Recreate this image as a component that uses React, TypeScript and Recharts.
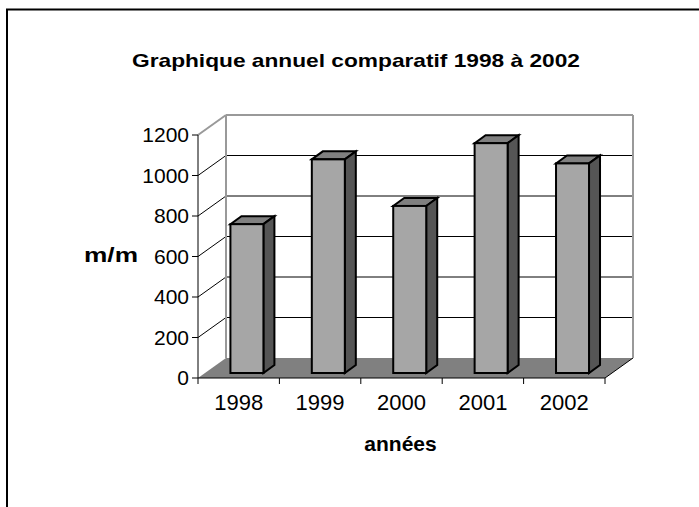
import React from 'react';
import { BarChart, Bar, XAxis, YAxis, CartesianGrid } from 'recharts';

const years = ['1998', '1999', '2000', '2001', '2002'];
const rainfall = [735, 1055, 825, 1135, 1035];
const yTicks = [0, 200, 400, 600, 800, 1000, 1200];

const data = years.map((year, i) => ({ year, value: rainfall[i] }));

// pseudo-3d depth of the walls and of the bars (pixels)
const DX = 28;
const DY = -20;
const BAR_DX = 8;
const BAR_DY = -5;
const SIDE_DX = 11;
const SIDE_DY = -8;

const FONT = '"Liberation Sans", Arial, sans-serif';

const PLOT = { left: 198, top: 135, width: 407, height: 243 };

// one horizontal grid line -> floor / back wall line / wall border
const wallLine = (props: any) => {
  const { x1, x2, y1, index } = props;
  const top = props.y ?? PLOT.top;
  const bottom = top + (props.height ?? PLOT.height);
  const key = `wall-${index}`;
  if (Math.abs(y1 - bottom) < 0.5) {
    return (
      <g key={key}>
        <polygon
          points={`${x1},${y1} ${x2},${y1} ${x2 + DX},${y1 + DY} ${x1 + DX},${y1 + DY}`}
          fill="#808080"
        />
        <line x1={x2} y1={y1} x2={x2 + DX} y2={y1 + DY} stroke="#000" strokeWidth={1} />
      </g>
    );
  }
  if (Math.abs(y1 - top) < 0.5) {
    return (
      <g key={key} stroke="#999" strokeWidth={2} fill="none">
        <line x1={x1} y1={y1} x2={x1 + DX} y2={y1 + DY} />
        <line x1={x1 + DX} y1={y1 + DY} x2={x2 + DX} y2={y1 + DY} />
        <line x1={x1 + DX} y1={y1 + DY} x2={x1 + DX} y2={bottom + DY} />
        <line x1={x2 + DX} y1={y1 + DY} x2={x2 + DX} y2={bottom + DY} />
      </g>
    );
  }
  return (
    <g key={key} stroke="#000" strokeWidth={1}>
      <line x1={x1} y1={y1} x2={x1 + DX} y2={y1 + DY} />
      <line x1={x1 + DX} y1={y1 + DY} x2={x2 + DX} y2={y1 + DY} />
    </g>
  );
};

const Bar3D = (props: any) => {
  const { x, y, width, height } = props;
  const fx = x + BAR_DX;
  const fy = y + BAR_DY;
  return (
    <g stroke="#000" strokeWidth={2} strokeLinejoin="miter">
      <polygon
        points={`${fx},${fy} ${fx + width},${fy} ${fx + width + SIDE_DX},${fy + SIDE_DY} ${fx + SIDE_DX},${fy + SIDE_DY}`}
        fill="#808080"
      />
      <polygon
        points={`${fx + width},${fy} ${fx + width + SIDE_DX},${fy + SIDE_DY} ${fx + width + SIDE_DX},${fy + height + SIDE_DY} ${fx + width},${fy + height}`}
        fill="#555555"
      />
      <rect x={fx} y={fy} width={width} height={height} fill="#a6a6a6" />
    </g>
  );
};

const YearTick = (props: any) => {
  const { x, y, payload, index } = props;
  const band = PLOT.width / years.length;
  const axisY = y - 16;
  return (
    <g>
      <line x1={x - band / 2} y1={axisY} x2={x - band / 2} y2={axisY + 6} stroke="#000" />
      {index === years.length - 1 && (
        <line x1={x + band / 2} y1={axisY} x2={x + band / 2} y2={axisY + 6} stroke="#000" />
      )}
      <text x={x} y={y} dy="0.71em" textAnchor="middle" fontSize={22} fontFamily={FONT} fill="#000">
        {payload.value}
      </text>
    </g>
  );
};

export default function App() {
  return (
    <div style={{ position: 'absolute', left: 0, top: 0, width: 699, height: 507, background: '#fff' }}>
      <BarChart
        width={699}
        height={507}
        data={data}
        margin={{ top: PLOT.top, right: 699 - PLOT.left - PLOT.width, bottom: 99, left: PLOT.left - 60 }}
        barCategoryGap="30%"
      >
        <CartesianGrid vertical={false} horizontal={wallLine} />
        <XAxis
          dataKey="year"
          height={30}
          axisLine={{ stroke: '#000' }}
          tickLine={false}
          tickSize={6}
          tickMargin={10}
          tick={<YearTick />}
          interval={0}
        />
        <YAxis
          width={60}
          domain={[0, 1200]}
          ticks={yTicks}
          axisLine={{ stroke: '#000' }}
          tickLine={{ stroke: '#000' }}
          tickSize={6}
          tickMargin={3}
          tick={{ fontSize: 21, fill: '#000', fontFamily: FONT }}
        />
        <Bar dataKey="value" shape={<Bar3D />} isAnimationActive={false} />
      </BarChart>
      <svg
        width={699}
        height={507}
        style={{ position: 'absolute', left: 0, top: 0, pointerEvents: 'none' }}
        fontFamily={FONT}
      >
        <path d="M7,507 V9.5 H699" fill="none" stroke="#000" strokeWidth={2} />
        <text x={356} y={67} textAnchor="middle" fontSize={19} fontWeight="bold" textLength={448} lengthAdjust="spacingAndGlyphs">
          Graphique annuel comparatif 1998 à 2002
        </text>
        <text x={111} y={262} textAnchor="middle" fontSize={21} fontWeight="bold" textLength={54} lengthAdjust="spacingAndGlyphs">
          m/m
        </text>
        <text x={400.5} y={451} textAnchor="middle" fontSize={21} fontWeight="bold">
          années
        </text>
      </svg>
    </div>
  );
}
